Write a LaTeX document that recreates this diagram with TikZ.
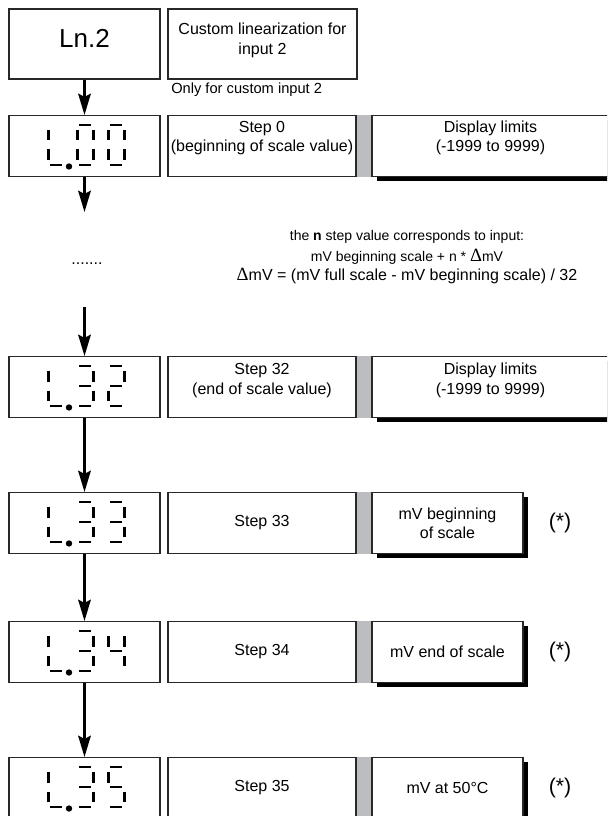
\documentclass[tikz,border=0pt]{standalone}
\usepackage[no-math]{fontspec}
\setmainfont{Liberation Sans}
\newfontfamily\deltafont{Liberation Serif}
\usetikzlibrary{arrows.meta,shadows}

\definecolor{bargrey}{RGB}{188,189,193}
\definecolor{edge}{RGB}{40,40,40}

% larger Delta used in the formula lines
\newcommand\Dsym{{\deltafont\fontsize{14}{14}\selectfont Δ}}

% seven-segment pieces, in pixel units relative to the digit's top-left corner
\def\dsega{(2,0)--(14,0)}
\def\dsegb{(16,5.3)--(16,15.5)}
\def\dsegc{(16,24.5)--(16,34.7)}
\def\dsegd{(2,40)--(14,40)}
\def\dsege{(0,24.5)--(0,34.7)}
\def\dsegf{(0,5.3)--(0,15.5)}
\def\dsegg{(2,20)--(14,20)}

% #1 = top-left corner of the digit, #2 = lit segments
\newcommand\sevenseg[2]{%
  \begin{scope}[shift={#1}]
    \foreach \s in {#2}{\draw[segment] \csname dseg\s\endcsname;}
  \end{scope}}

% readout "L.xy" inside a display box centred at (#1,#2)
\newcommand\readout[4]{%
  \sevenseg{(#1-36.2,#2-21)}{f,e,d}
  \fill[black] (#1-15.5,#2+20.5) circle[radius=2.4pt];
  \sevenseg{(#1-7.2,#2-21)}{#3}
  \sevenseg{(#1+23.8,#2-21)}{#4}}

\tikzset{
  segment/.style={line width=2pt, line cap=butt, black},
  txt/.style={inner sep=0pt, align=center, font=\fontsize{12}{14.5}\selectfont},
  frame/.style={txt, draw=edge, line width=0.8pt, fill=white},
  dispbox/.style={frame, minimum width=113.25pt, minimum height=45.75pt},
  stepbox/.style={frame, minimum width=141pt, minimum height=45.75pt},
  limitbox/.style={frame, minimum height=45.75pt,
    drop shadow={shadow xshift=3.4pt, shadow yshift=-3.4pt, opacity=1, fill=black}},
  wide/.style={limitbox, minimum width=177.75pt},
  narrow/.style={limitbox, minimum width=113.25pt},
  flow/.style={line width=1.8pt, black,
    -{Stealth[length=16pt, width=9.5pt, inset=2.5pt]}},
  note/.style={inner sep=0pt, anchor=base, font=\fontsize{10.5}{12}\selectfont},
  star/.style={font=\fontsize{16}{16}\selectfont, inner sep=0pt},
}

\begin{document}
\begin{tikzpicture}[x=0.75pt, y=-0.75pt]
\useasboundingbox (0,0) rectangle (607,816);
\clip (0,0) rectangle (607,816);

% heading row
\node[dispbox, minimum height=52.5pt] (ln) at (84.5,44) {};
\node[txt, font=\fontsize{19.5}{20}\selectfont] (lnt) at (84.5,38.5) {Ln.2};
\node[stepbox, minimum width=141.75pt, minimum height=52.5pt] (title) at (262.5,44) {};
\node[txt] (titlet) at (262.5,40.5) {Custom linearization for\\input 2};
\node[txt, anchor=west, font=\fontsize{11}{13}\selectfont] (only) at (171,90)
  {Only for custom input 2};

% step 0
\node[dispbox] (d0) at (84.5,146) {};
\readout{84.5}{146}{a,b,c,d,e,f}{a,b,c,d,e,f}
\node[stepbox] (s0) at (262,146) {};
\node[txt] (s0t) at (262,138) {Step 0\\(beginning of scale value)};
\node[wide] (r0) at (490.5,146) {};
\node[txt] (r0t) at (490.5,138) {Display limits\\(-1999 to 9999)};
\fill[bargrey] (s0.north east) rectangle (r0.south west);

% intermediate steps
\coordinate (gapA) at (84.5,212);
\coordinate (gapB) at (84.5,307);
\node[note, font=\fontsize{12}{12}\selectfont] (dots) at (87,265) {.......};
\node[note] (note1) at (407,241)
  {the \textbf{n} step value corresponds to input:};
\node[note] (note2) at (407,262)
  {mV beginning scale + n * \Dsym mV};
\node[note, font=\fontsize{12}{12}\selectfont] (note3) at (407,281)
  {\Dsym mV = (mV full scale - mV beginning scale) / 32};

% step 32
\node[dispbox] (d32) at (84.5,387) {};
\readout{84.5}{387}{a,b,g,c,d}{a,b,g,e,d}
\node[stepbox] (s32) at (262,387) {};
\node[txt] (s32t) at (262,380.5) {Step 32\\(end of scale value)};
\node[wide] (r32) at (490.5,387) {};
\node[txt] (r32t) at (490.5,380.5) {Display limits\\(-1999 to 9999)};
\fill[bargrey] (s32.north east) rectangle (r32.south west);

% step 33
\node[dispbox] (d33) at (84.5,523) {};
\readout{84.5}{523}{a,b,g,c,d}{a,b,g,c,d}
\node[stepbox] (s33) at (262,523) {Step 33};
\node[narrow] (r33) at (447.5,523) {mV beginning\\of scale};
\fill[bargrey] (s33.north east) rectangle (r33.south west);
\node[star] (n33) at (560,523) {(*)};

% step 34
\node[dispbox] (d34) at (84.5,652) {};
\readout{84.5}{652}{a,b,g,c,d}{f,b,g,c}
\node[stepbox] (s34) at (262,652) {Step 34};
\node[narrow] (r34) at (447.5,652) {mV end of scale};
\fill[bargrey] (s34.north east) rectangle (r34.south west);
\node[star] (n34) at (560,652) {(*)};

% step 35
\node[dispbox] (d35) at (84.5,788) {};
\readout{84.5}{788}{a,b,g,c,d}{a,f,g,c,d}
\node[stepbox] (s35) at (262,788) {Step 35};
\node[narrow] (r35) at (447.5,788) {mV at 50°C};
\fill[bargrey] (s35.north east) rectangle (r35.south west);
\node[star] (n35) at (560,788) {(*)};

% flow arrows
\draw[flow] (ln.south) -- (d0.north);
\draw[flow] (d0.south) -- (gapA);
\draw[flow] (gapB) -- (d32.north);
\draw[flow] (d32.south) -- (d33.north);
\draw[flow] (d33.south) -- (d34.north);
\draw[flow] (d34.south) -- (d35.north);
\end{tikzpicture}
\end{document}
